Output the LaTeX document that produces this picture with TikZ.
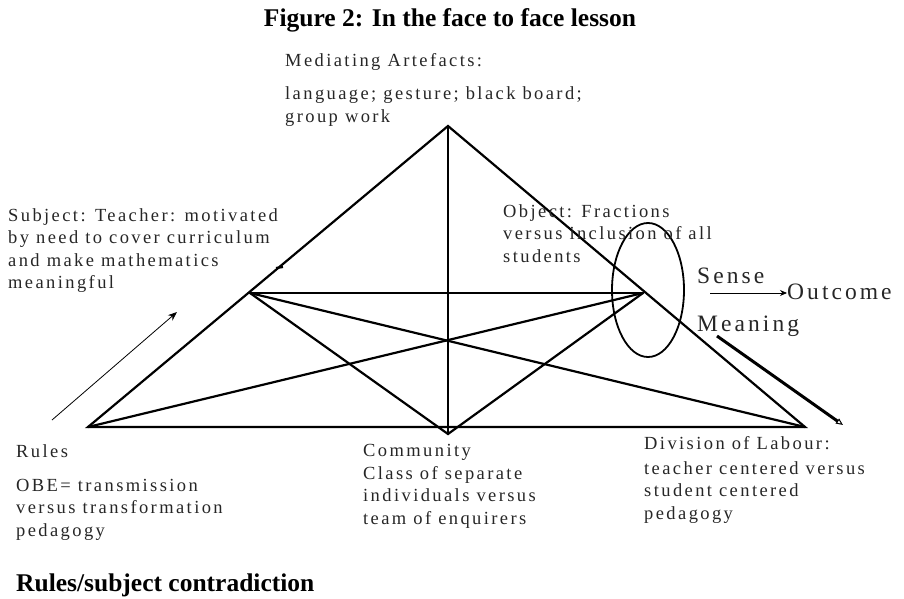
\documentclass[tikz,border=0pt]{standalone}
\usepackage{fontspec}
\setmainfont{Liberation Serif}
\newfontfamily\spaced[LetterSpace=13]{Liberation Serif}
\usetikzlibrary{arrows.meta}

\begin{document}
\begin{tikzpicture}[x=1pt,y=-1pt,
  edge/.style={line width=2.2pt, line cap=round},
  % multi-line labels are placed by the baseline of their last line
  lbl/.style={font=\spaced\fontsize{18.5}{22.5}\selectfont, anchor=base west,
    inner sep=0pt, align=left, text=black!85},
  big/.style={font=\spaced\fontsize{23.5}{28}\selectfont, anchor=base west,
    inner sep=0pt, text=black!85},
  head/.style={font=\bfseries\fontsize{25.5}{30}\selectfont, inner sep=0pt}]

% page frame
\useasboundingbox (0,0) rectangle (904,599);

% corners of the activity triangle
\coordinate (T) at (448,126);
\coordinate (S) at (250,293);
\coordinate (O) at (643,293);
\coordinate (R) at (88,427);
\coordinate (C) at (448,434);
\coordinate (D) at (805,427);

% triangle edges and inner links
\draw[edge] (R) -- (T) -- (D) -- cycle;
\draw[edge] (T) -- (C);
\draw[edge] (S) -- (O);
\draw[edge] (S) -- (C) -- (O);
\draw[edge] (S) -- (D);
\draw[edge] (O) -- (R);

% small mark on the left edge
\draw[line width=2.2pt] (276,268) -- (283,267);

% ring around the object
\draw[line width=1.8pt] (648,290) ellipse [x radius=36, y radius=67];

% titles
\node[head, anchor=base] (title) at (450,27) {Figure 2: In the face to face lesson};
\node[head, anchor=base west] (caption) at (16,591) {Rules/subject contradiction};

% labels of the corners
\node[lbl] (med) at (285,67) {Mediating Artefacts:};
\node[lbl] (medtext) at (285,122) {language; gesture; black board;\\group work};
\node[lbl] (subj) at (8,288.5) {Subject: Teacher: motivated\\by need to cover curriculum\\and make mathematics\\meaningful};
\node[lbl] (obj) at (503,262) {Object: Fractions\\versus inclusion of all\\students};
\node[lbl] (rules) at (16,457) {Rules};
\node[lbl] (rulestext) at (16,536) {OBE= transmission\\versus transformation\\pedagogy};
\node[lbl] (comm) at (363,524) {Community\\Class of separate\\individuals versus\\team of enquirers};
\node[lbl] (div) at (644,449) {Division of Labour:};
\node[lbl] (divtext) at (644,519) {teacher centered versus\\student centered\\pedagogy};

% sense and meaning towards the outcome
\node[big] (sense) at (697,283) {Sense};
\node[big] (outcome) at (787,299) {Outcome};
\node[big] (meaning) at (697,331) {Meaning};
\coordinate (sa) at (710,293);
\draw[line width=0.8pt, -{Stealth[length=7pt,width=6pt]}] (sa) -- (outcome.west |- sa);

\coordinate (ma) at (717,336);
\coordinate (mb) at (843,425);
\draw[line width=3pt, -{Triangle[open,length=7pt,width=6pt,line width=1pt]}] (ma) -- (mb);

% rising arrow beside the rules corner
\coordinate (ra) at (52,420);
\coordinate (rb) at (177,312);
\draw[line width=0.8pt, -{Stealth[length=9pt,width=7pt]}] (ra) -- (rb);
\end{tikzpicture}
\end{document}
